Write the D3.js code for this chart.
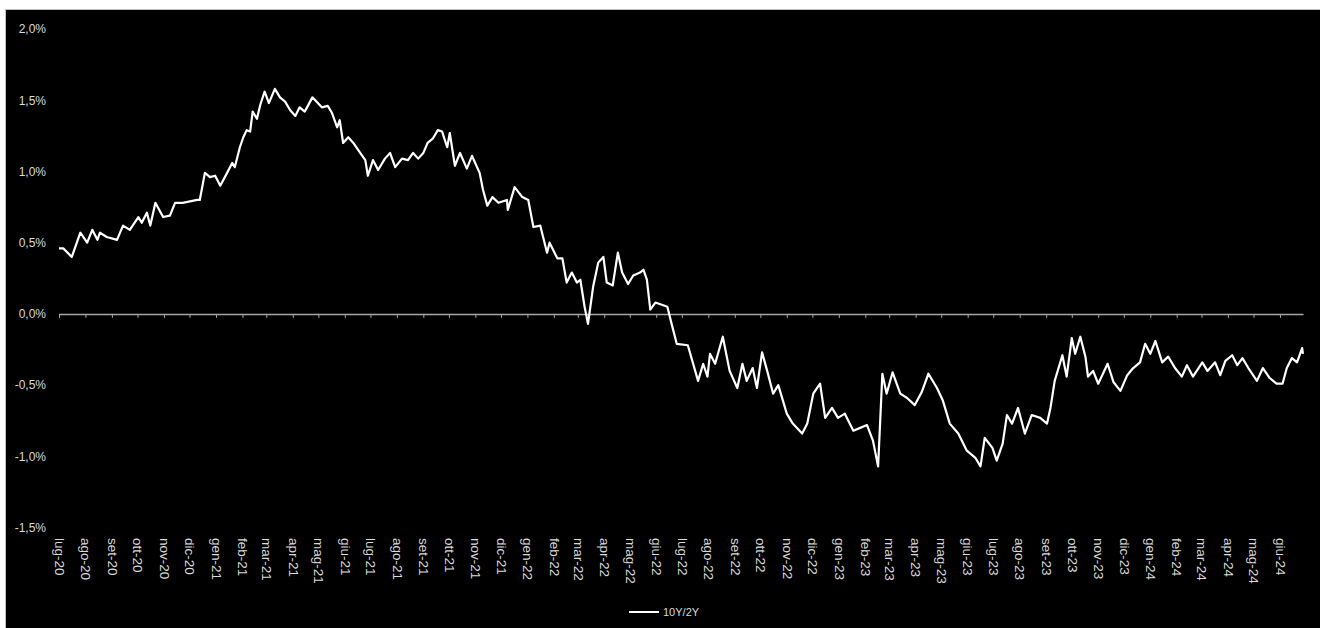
<!DOCTYPE html>
<head>
    <meta charset="utf-8">
    <title>10Y/2Y</title>
    <script src="https://d3js.org/d3.v7.min.js"></script>
    <style>
        body { margin: 0; background: #fff; }
        text { font-family: "Liberation Sans", Arial, sans-serif; }
    </style>
</head>
<body>
    <script>
        // spread 10Y/2Y, in percent
        const dates = [
            "2020-07-01","2020-07-06","2020-07-16","2020-07-26","2020-08-03","2020-08-09","2020-08-15","2020-08-18","2020-08-26","2020-09-07",
            "2020-09-14","2020-09-22","2020-10-02","2020-10-06","2020-10-12","2020-10-16","2020-10-22","2020-10-31","2020-11-08","2020-11-14",
            "2020-11-23","2020-12-10","2020-12-13","2020-12-19","2020-12-25","2020-12-31","2021-01-06","2021-01-14","2021-01-20","2021-01-23",
            "2021-01-29","2021-02-02","2021-02-06","2021-02-10","2021-02-13","2021-02-18","2021-02-22","2021-02-27","2021-03-04","2021-03-11",
            "2021-03-17","2021-03-23","2021-03-29","2021-04-04","2021-04-09","2021-04-15","2021-04-24","2021-04-29","2021-05-05","2021-05-12",
            "2021-05-17","2021-05-23","2021-05-26","2021-05-30","2021-06-05","2021-06-11","2021-06-19","2021-06-25","2021-06-28","2021-07-04",
            "2021-07-10","2021-07-18","2021-07-24","2021-07-30","2021-08-07","2021-08-14","2021-08-20","2021-08-26","2021-09-01","2021-09-06",
            "2021-09-12","2021-09-18","2021-09-23","2021-09-29","2021-10-02","2021-10-08","2021-10-14","2021-10-22","2021-10-28","2021-11-06",
            "2021-11-10","2021-11-15","2021-11-21","2021-11-28","2021-12-08","2021-12-09","2021-12-17","2021-12-26","2022-01-02","2022-01-08",
            "2022-01-16","2022-01-24","2022-01-27","2022-02-05","2022-02-11","2022-02-16","2022-02-22","2022-02-28","2022-03-04","2022-03-09",
            "2022-03-13","2022-03-19","2022-03-25","2022-03-31","2022-04-04","2022-04-11","2022-04-17","2022-04-22","2022-04-29","2022-05-05",
            "2022-05-13","2022-05-17","2022-05-21","2022-05-25","2022-05-31","2022-06-05","2022-06-14","2022-06-19","2022-06-25","2022-07-08",
            "2022-07-20","2022-07-26","2022-07-31","2022-08-03","2022-08-09","2022-08-18","2022-08-26","2022-09-04","2022-09-10","2022-09-15",
            "2022-09-22","2022-09-27","2022-10-03","2022-10-09","2022-10-16","2022-10-22","2022-11-01","2022-11-08","2022-11-19","2022-11-25",
            "2022-12-02","2022-12-10","2022-12-16","2022-12-24","2022-12-31","2023-01-08","2023-01-18","2023-01-26","2023-02-03","2023-02-10",
            "2023-02-16","2023-02-21","2023-02-26","2023-03-05","2023-03-14","2023-03-22","2023-03-31","2023-04-08","2023-04-16","2023-04-26",
            "2023-05-03","2023-05-11","2023-05-21","2023-05-31","2023-06-10","2023-06-16","2023-06-21","2023-06-30","2023-07-05","2023-07-12",
            "2023-07-17","2023-07-23","2023-07-30","2023-08-07","2023-08-15","2023-08-25","2023-09-02","2023-09-06","2023-09-11","2023-09-20",
            "2023-09-25","2023-10-01","2023-10-05","2023-10-11","2023-10-17","2023-10-20","2023-10-26","2023-11-01","2023-11-12","2023-11-19",
            "2023-11-27","2023-12-05","2023-12-12","2023-12-20","2023-12-26","2024-01-01","2024-01-07","2024-01-15","2024-01-22","2024-01-30",
            "2024-02-07","2024-02-13","2024-02-20","2024-03-02","2024-03-08","2024-03-17","2024-03-23","2024-03-29","2024-04-06","2024-04-12",
            "2024-04-18","2024-04-25","2024-05-05","2024-05-12","2024-05-20","2024-05-28","2024-06-04","2024-06-09","2024-06-15","2024-06-21",
            "2024-06-27","2024-06-28"
        ]
        const spread = [
            0.46,0.46,0.40,0.57,0.50,0.59,0.52,0.57,0.54,0.52,
            0.62,0.59,0.68,0.64,0.71,0.62,0.78,0.68,0.69,0.78,
            0.78,0.80,0.80,0.99,0.96,0.97,0.90,0.99,1.06,1.03,
            1.17,1.24,1.29,1.28,1.42,1.37,1.47,1.56,1.48,1.58,
            1.52,1.49,1.43,1.39,1.45,1.42,1.52,1.49,1.45,1.46,
            1.41,1.31,1.36,1.20,1.24,1.20,1.13,1.08,0.97,1.08,
            1.01,1.09,1.13,1.03,1.09,1.08,1.13,1.09,1.13,1.20,
            1.23,1.29,1.28,1.17,1.27,1.04,1.13,1.02,1.11,0.99,
            0.87,0.76,0.82,0.78,0.80,0.73,0.89,0.82,0.80,0.61,
            0.62,0.43,0.50,0.39,0.39,0.22,0.29,0.22,0.24,0.05,
            -0.07,0.19,0.36,0.40,0.22,0.20,0.43,0.29,0.21,0.27,
            0.29,0.31,0.24,0.03,0.08,0.07,0.05,-0.07,-0.21,-0.22,
            -0.47,-0.35,-0.44,-0.28,-0.35,-0.16,-0.40,-0.52,-0.35,-0.47,
            -0.38,-0.52,-0.27,-0.40,-0.56,-0.50,-0.70,-0.77,-0.84,-0.77,
            -0.56,-0.49,-0.73,-0.66,-0.73,-0.70,-0.82,-0.80,-0.78,-0.89,
            -1.07,-0.42,-0.56,-0.41,-0.56,-0.59,-0.64,-0.55,-0.42,-0.52,
            -0.61,-0.77,-0.84,-0.96,-1.01,-1.07,-0.87,-0.94,-1.03,-0.91,
            -0.71,-0.77,-0.66,-0.84,-0.71,-0.73,-0.77,-0.66,-0.47,-0.29,
            -0.44,-0.17,-0.28,-0.16,-0.30,-0.44,-0.40,-0.49,-0.35,-0.48,
            -0.54,-0.43,-0.38,-0.34,-0.21,-0.28,-0.19,-0.34,-0.30,-0.38,
            -0.44,-0.36,-0.44,-0.34,-0.40,-0.34,-0.43,-0.33,-0.29,-0.36,
            -0.31,-0.38,-0.47,-0.38,-0.45,-0.49,-0.49,-0.38,-0.31,-0.34,
            -0.24,-0.28
        ]
        const yTicks = [-1.5, -1.0, -0.5, 0, 0.5, 1.0, 1.5, 2.0]
        const monthNames = ["gen","feb","mar","apr","mag","giu","lug","ago","set","ott","nov","dic"]
        const seriesName = "10Y/2Y"

        const width = 1320
        const height = 628
        const axisGray = "#a6a6a6"
        const textGray = "#d9d9d9"

        const parse = d3.timeParse("%Y-%m-%d")
        const data = dates.map((d, i) => ({ date: parse(d), value: spread[i] }))

        const it = d3.formatLocale({ decimal: ",", thousands: ".", grouping: [3], currency: ["", "€"], minus: "-" })
        const fmt = it.format(".1f")

        const vis = d3.select("body").append("svg")
            .attr("width", width)
            .attr("height", height)

        vis.append("rect")
            .attr("x", 5.5).attr("y", 9.5)
            .attr("width", width - 5).attr("height", height - 9)
            .attr("fill", "#000")
            .attr("stroke", "#bfbfbf")

        const x = d3.scaleTime()
            .domain([parse("2020-07-01"), parse("2024-06-28")])
            .range([59, 1303])
        const y = d3.scaleLinear().domain([-1.5, 2.0]).range([527.6, 29])

        const months = d3.timeMonth.range(parse("2020-07-01"), parse("2024-06-29"))

        // y labels, no axis line
        const yAxis = vis.append("g")
            .attr("transform", "translate(49,0)")
            .call(d3.axisLeft(y).tickValues(yTicks).tickSize(0).tickPadding(3)
                .tickFormat((d) => fmt(d) + "%"))
        yAxis.select(".domain").remove()
        yAxis.selectAll("text")
            .attr("fill", textGray)
            .style("font-size", "12px")

        // zero line with monthly ticks
        const zeroAxis = vis.append("g")
            .attr("transform", `translate(0, ${y(0)})`)
            .call(d3.axisBottom(x).tickValues(months).tickSize(4).tickSizeOuter(0).tickFormat(""))
        zeroAxis.select(".domain").attr("stroke", axisGray).attr("stroke-width", 1.5)
        zeroAxis.selectAll(".tick line").attr("stroke", axisGray)

        // month labels at the bottom
        const labelAxis = vis.append("g")
            .attr("transform", "translate(0, 536)")
            .call(d3.axisBottom(x).tickValues(months).tickSize(0)
                .tickFormat((d) => monthNames[d.getMonth()] + "-" + String(d.getFullYear()).slice(2)))
        labelAxis.select(".domain").remove()
        labelAxis.selectAll("text")
            .attr("fill", textGray)
            .style("font-size", "13.5px")
            .attr("transform", "rotate(90)")
            .attr("x", 2)
            .attr("y", 0)
            .attr("dy", "0.35em")
            .style("text-anchor", "start")

        const line = d3.line()
            .x((d) => x(d.date))
            .y((d) => y(d.value))

        vis.append("path")
            .datum(data)
            .attr("d", line)
            .attr("fill", "none")
            .attr("stroke", "#fff")
            .attr("stroke-width", 2.2)
            .attr("stroke-linejoin", "round")

        // legend
        const legend = vis.append("g").attr("transform", "translate(629, 612)")
        legend.append("line")
            .attr("x1", 0).attr("x2", 30)
            .attr("stroke", "#fff").attr("stroke-width", 2)
        legend.append("text")
            .attr("x", 34).attr("dy", "0.35em")
            .attr("fill", textGray)
            .style("font-size", "11px")
            .text(seriesName)
    </script>
</body>
